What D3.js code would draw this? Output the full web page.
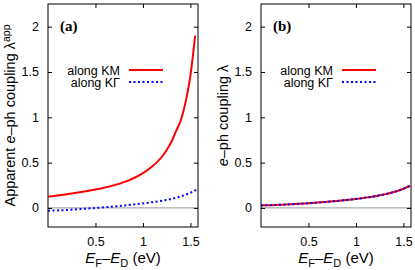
<!DOCTYPE html>
<html>
<head>
<meta charset="utf-8">
<script src="https://d3js.org/d3.v7.min.js"></script>
<style>
  body { margin: 0; background: #fff; }
  svg text { font-family: "Liberation Sans", Arial, sans-serif; fill: #000; }
  .tick text { font-size: 12.5px; }
  .frame { fill: none; stroke: #000; stroke-width: 1; }
</style>
</head>
<body>
<svg width="415" height="270"></svg>
<script>
// panel (a): apparent coupling
const xA = [0, 0.1, 0.2, 0.3, 0.4, 0.5, 0.6, 0.7, 0.8, 0.9, 1.0, 1.1, 1.2, 1.25, 1.3, 1.35, 1.4, 1.45, 1.5, 1.55];
const kmA = [0.125, 0.138, 0.152, 0.167, 0.184, 0.203, 0.225, 0.252, 0.285, 0.328, 0.385, 0.46, 0.565, 0.64, 0.73, 0.85, 0.97, 1.17, 1.46, 1.9];
const xA2 = [0, 0.1, 0.2, 0.3, 0.4, 0.5, 0.6, 0.7, 0.8, 0.9, 1.0, 1.1, 1.2, 1.3, 1.4, 1.5, 1.57];
const kgA = [-0.03, -0.027, -0.022, -0.015, -0.008, 0.0, 0.008, 0.017, 0.027, 0.038, 0.05, 0.064, 0.08, 0.1, 0.128, 0.168, 0.205];
// panel (b): true coupling
const xB = [0, 0.1, 0.2, 0.3, 0.4, 0.5, 0.6, 0.7, 0.8, 0.9, 1.0, 1.1, 1.2, 1.3, 1.4, 1.5, 1.57];
const kmB = [0.028, 0.031, 0.035, 0.04, 0.046, 0.053, 0.06, 0.068, 0.077, 0.088, 0.1, 0.114, 0.13, 0.15, 0.176, 0.212, 0.245];
const kgB = [0.028, 0.031, 0.035, 0.04, 0.046, 0.053, 0.06, 0.068, 0.077, 0.088, 0.1, 0.114, 0.13, 0.15, 0.176, 0.212, 0.245];

const xTicks = [0.5, 1, 1.5];
const yTicks = [0, 0.5, 1, 1.5, 2];
const legendLabels = ["along KM", "along K\u0393"];

const svg = d3.select("svg");
const plotTop = 4, plotBottom = 227;
const y = d3.scaleLinear().domain([-0.21, 2.25]).range([plotBottom, plotTop]);

function panel(left, tag, series, ylabel) {
  const right = left + 150;
  const x = d3.scaleLinear().domain([0, 1.58]).range([left, right]);
  const g = svg.append("g");
  const id = "clip" + tag;
  svg.append("clipPath").attr("id", id).append("rect")
    .attr("x", left).attr("y", plotTop).attr("width", right - left).attr("height", plotBottom - plotTop);

  // zero line
  g.append("line").attr("x1", left).attr("x2", right).attr("y1", y(0)).attr("y2", y(0))
    .attr("stroke", "#aaa").attr("stroke-width", 1.3);

  // axes with inward ticks
  const fmt = d => String(d);
  g.append("g").attr("transform", `translate(0,${plotBottom})`)
    .call(d3.axisBottom(x).tickValues(xTicks).tickFormat(fmt).tickSize(-4).tickPadding(10))
    .call(a => a.select(".domain").remove());
  g.append("g").attr("transform", `translate(0,${plotTop})`)
    .call(d3.axisTop(x).tickValues(xTicks).tickFormat("").tickSize(-4))
    .call(a => a.select(".domain").remove());
  g.append("g").attr("transform", `translate(${left},0)`)
    .call(d3.axisLeft(y).tickValues(yTicks).tickFormat(fmt).tickSize(-4).tickPadding(9))
    .call(a => a.select(".domain").remove());
  g.append("g").attr("transform", `translate(${right},0)`)
    .call(d3.axisRight(y).tickValues(yTicks).tickFormat("").tickSize(-4))
    .call(a => a.select(".domain").remove());
  g.selectAll(".tick line").attr("stroke", "#000");

  const line = d3.line().x(d => x(d[0])).y(d => y(d[1])).curve(d3.curveMonotoneX);
  const c = g.append("g").attr("clip-path", `url(#${id})`);
  series.forEach(s => {
    c.append("path").datum(d3.zip(s.x, s.y)).attr("d", line)
      .attr("fill", "none").attr("stroke", s.color).attr("stroke-width", 2)
      .attr("stroke-dasharray", s.dash || null);
  });

  g.append("rect").attr("class", "frame").attr("x", left).attr("y", plotTop)
    .attr("width", right - left).attr("height", plotBottom - plotTop);

  // panel tag
  g.append("text").attr("x", left + 12).attr("y", 31)
    .style("font-family", "'Liberation Serif', 'Times New Roman', serif")
    .style("font-weight", "bold").style("font-size", "15px").text("(" + tag + ")");

  // legend
  [0, 1].forEach(i => {
    const ly = 70 + i * 12;
    g.append("text").attr("x", left + 72).attr("y", ly + 4.5).attr("text-anchor", "end")
      .style("font-size", "12.5px").text(legendLabels[i]);
    g.append("line").attr("x1", left + 81).attr("x2", left + 115).attr("y1", ly).attr("y2", ly)
      .attr("stroke", series[i].color).attr("stroke-width", 2)
      .attr("stroke-dasharray", series[i].dash || null);
  });

  // x label
  const xl = g.append("text").attr("x", (left + right) / 2).attr("y", 263)
    .attr("text-anchor", "middle").style("font-size", "15px");
  xl.append("tspan").style("font-style", "italic").text("E");
  xl.append("tspan").attr("dy", 3.5).style("font-size", "11px").text("F");
  xl.append("tspan").attr("dy", -3.5).text("\u2013");
  xl.append("tspan").style("font-style", "italic").text("E");
  xl.append("tspan").attr("dy", 3.5).style("font-size", "11px").text("D");
  xl.append("tspan").attr("dy", -3.5).text(" (eV)");

  // y label
  const yl = g.append("text").attr("transform", `translate(${left - 33},${(plotTop + plotBottom) / 2}) rotate(-90)`)
    .attr("text-anchor", "middle").style("font-size", "14.5px");
  ylabel(yl);
}

panel(48, "a", [
  { x: xA, y: kmA, color: "#ff0000" },
  { x: xA2, y: kgA, color: "#0000ff", dash: "2,2.5" }
], t => {
  t.append("tspan").text("Apparent ");
  t.append("tspan").style("font-style", "italic").text("e");
  t.append("tspan").text("\u2013ph coupling \u03bb");
  t.append("tspan").attr("dy", -5).style("font-size", "10.5px").text("app");
});

panel(261, "b", [
  { x: xB, y: kmB, color: "#ff0000" },
  { x: xB, y: kgB, color: "#0000ff", dash: "2,2.5" }
], t => {
  t.append("tspan").style("font-style", "italic").text("e");
  t.append("tspan").text("\u2013ph coupling \u03bb");
});
</script>
</body>
</html>
